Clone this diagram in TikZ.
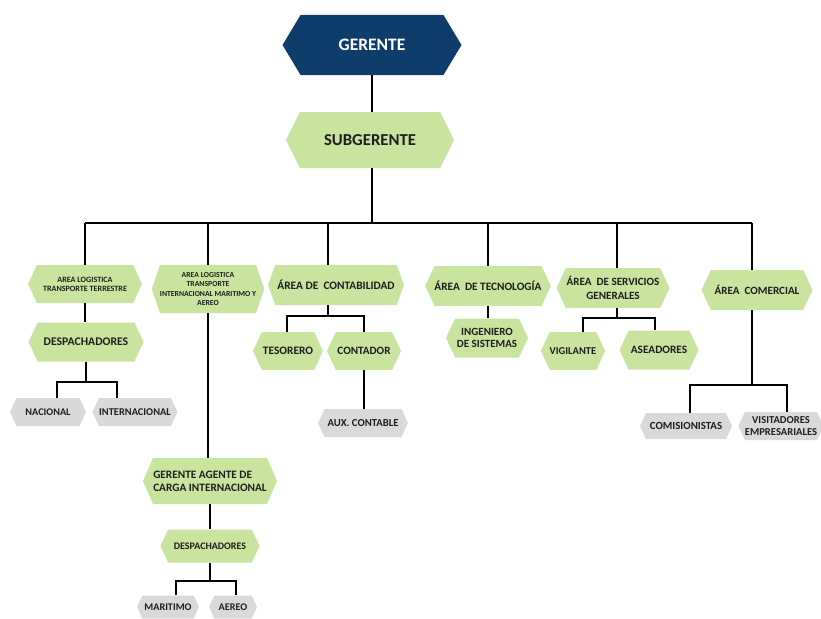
\documentclass[tikz,border=0pt]{standalone}
\usepackage{fontspec}
\setmainfont{Carlito}
\usetikzlibrary{shapes.symbols}

\definecolor{navy}{HTML}{0E3C6B}
\definecolor{leaf}{HTML}{C8E49F}
\definecolor{ash}{HTML}{D9D9D9}
\definecolor{ink}{HTML}{1E1E1E}

\newcommand{\fs}[2]{\fontsize{#1}{#2}\selectfont\bfseries}

\begin{document}
\begin{tikzpicture}[x=1pt, y=-1pt,
  hexa/.style={shape=signal, signal to=west and east, signal pointer angle=130,
    inner sep=0pt, align=center, text=ink},
  jefe/.style={hexa, fill=navy, text=white},
  verde/.style={hexa, fill=leaf},
  gris/.style={hexa, fill=ash},
  linea/.style={line width=2.2pt, black}]
\useasboundingbox (0,0) rectangle (821,618);

% top
\node[jefe, signal pointer angle=118, minimum width=179pt, minimum height=60pt, font=\fs{17.5}{20}] (ger) at (372,45) {GERENTE};
\node[verde, signal pointer angle=127, minimum width=168pt, minimum height=56pt, font=\fs{16.7}{20}] (sub) at (370,140) {SUBGERENTE};

% areas
\node[verde, minimum width=114pt, minimum height=38pt, font=\fs{8.1}{9}] (ter) at (85,284)
  {AREA LOGISTICA\\TRANSPORTE TERRESTRE};
\node[verde, signal pointer angle=142, minimum width=112pt, minimum height=48pt, font=\fs{7.7}{9.3}] (int) at (208,289)
  {AREA LOGISTICA\\TRANSPORTE\\INTERNACIONAL MARITIMO Y\\AEREO};
\node[verde, signal pointer angle=140, minimum width=136pt, minimum height=40pt, font=\fs{11.4}{13}] (cont) at (336,285)
  {ÁREA DE\ \ CONTABILIDAD};
\node[verde, minimum width=121pt, minimum height=40pt, font=\fs{11.3}{13}] (tec) at (488,286)
  {ÁREA\ \ DE TECNOLOGÍA};
\node[verde, minimum width=113pt, minimum height=40pt, font=\fs{11.1}{13.3}] (serv) at (613,288)
  {ÁREA\ \ DE SERVICIOS\\GENERALES};
\node[verde, minimum width=111pt, minimum height=40pt, font=\fs{11.1}{13}] (com) at (757,290)
  {ÁREA\ \ COMERCIAL};

% terrestre
\node[verde, minimum width=115pt, minimum height=39pt, font=\fs{11.7}{13}] (desp1) at (86,342) {DESPACHADORES};
\node[gris, minimum width=76pt, minimum height=28pt, font=\fs{10.2}{12}] (nac) at (48,412) {NACIONAL};
\node[gris, minimum width=85pt, minimum height=28pt, font=\fs{10.4}{12}] (inte) at (135,412) {INTERNACIONAL};

% internacional
\node[verde, signal pointer angle=133, minimum width=134pt, minimum height=46pt, font=\fs{11.3}{13.3}, align=left] (gac) at (210,481)
  {GERENTE AGENTE DE\\CARGA INTERNACIONAL};
\node[verde, minimum width=99pt, minimum height=33pt, font=\fs{10}{11}] (desp2) at (210,546) {DESPACHADORES};
\node[gris, minimum width=62pt, minimum height=23pt, font=\fs{10.2}{11}] (mar) at (168,607) {MARITIMO};
\node[gris, minimum width=48pt, minimum height=23pt, font=\fs{10.2}{11}] (aer) at (233,607) {AEREO};

% contabilidad
\node[verde, minimum width=70pt, minimum height=38pt, font=\fs{11.4}{12}] (tes) at (288,351) {TESORERO};
\node[verde, minimum width=74pt, minimum height=38pt, font=\fs{11.2}{12}] (con) at (364,351) {CONTADOR};
\node[gris, minimum width=90pt, minimum height=28pt, font=\fs{10.7}{12}] (aux) at (363,423) {AUX. CONTABLE};

% tecnologia
\node[verde, minimum width=82pt, minimum height=39pt, font=\fs{11}{11.7}] (ing) at (487,338)
  {INGENIERO\\DE SISTEMAS};

% servicios
\node[verde, minimum width=62pt, minimum height=38pt, font=\fs{10.5}{12}] (vig) at (573,351) {VIGILANTE};
\node[verde, minimum width=79pt, minimum height=39pt, font=\fs{11.3}{12}] (ase) at (659,350) {ASEADORES};

% comercial
\node[gris, minimum width=92pt, minimum height=26pt, font=\fs{10.9}{12}] (comi) at (686,426) {COMISIONISTAS};
\node[gris, minimum width=81pt, minimum height=28pt, font=\fs{10.6}{12.3}] (vis) at (781,426)
  {VISITADORES\\EMPRESARIALES};

% lines
\draw[linea] (ger.south) -- (ger.south |- sub.north);
\coordinate (bus) at (372,223);
\draw[linea] (sub.south -| bus) -- (bus);
\draw[linea] (bus -| ter.north) -- ([xshift=-5pt]bus -| com.north);
\draw[linea] (bus -| ter.north) -- (ter.north);
\draw[linea] (bus -| int.north) -- (int.north);
\draw[linea] ([xshift=-8pt]bus -| cont.north) -- ([xshift=-8pt]cont.north);
\draw[linea] (bus -| tec.north) -- (tec.north);
\draw[linea] ([xshift=4pt]bus -| serv.north) -- ([xshift=4pt]serv.north);
\draw[linea] ([xshift=-5pt]bus -| com.north) -- ([xshift=-5pt]com.north);

\draw[linea] (ter.south) -- (ter.south |- desp1.north);
\draw[linea] (desp1.south) -- ++(0,20) coordinate (d1);
\draw[linea] ([xshift=9pt]nac.north) |- (d1) -| ([xshift=-18pt]inte.north);

\draw[linea] (int.south) -- (int.south |- gac.north);
\draw[linea] (gac.south) -- (desp2.north);
\draw[linea] (desp2.south) -- ++(0,18) coordinate (d2);
\draw[linea] ([xshift=8pt]mar.north) |- (d2) -| ([xshift=3pt]aer.north);

\draw[linea] ([xshift=-8pt]cont.south) -- ++(0,11) coordinate (c1);
\draw[linea] (tes.north -| 287,0) |- (c1) -| (con.north);
\draw[linea] (con.south) -- (con.south |- aux.north);

\draw[linea] (tec.south) -- (tec.south |- ing.north);

\draw[linea] ([xshift=4pt]serv.south) -- ++(0,10) coordinate (s1);
\draw[linea] ([xshift=10pt]vig.north) |- (s1) -| ([xshift=-4pt]ase.north);

\draw[linea] ([xshift=-5pt]com.south) -- ++(0,75) coordinate (m1);
\draw[linea] ([xshift=4pt]comi.north) |- (m1) -| ([xshift=6pt]vis.north);
\end{tikzpicture}
\end{document}
